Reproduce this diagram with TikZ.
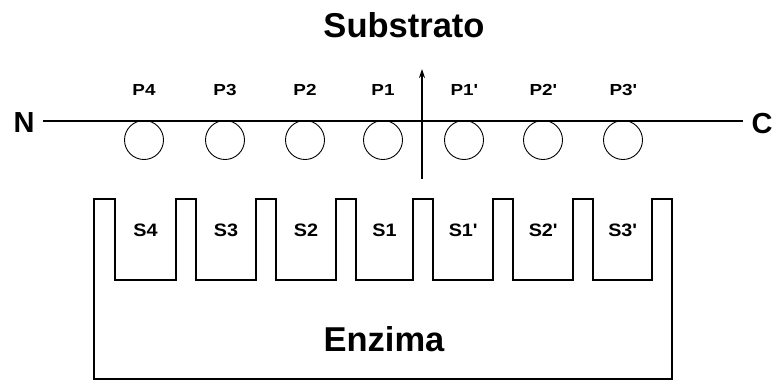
\documentclass[tikz,border=0pt]{standalone}
\usepackage{fontspec}
\setmainfont{Liberation Sans}
\newfontfamily\stretchfont[FakeStretch=1.18]{Liberation Sans}
\newfontfamily\stretchfontb[FakeStretch=1.1]{Liberation Sans}
\usetikzlibrary{arrows.meta}
\begin{document}
\begin{tikzpicture}[x=1pt,y=-1pt,
  big/.style={font=\fontsize{34.5}{37}\selectfont\bfseries, inner sep=0pt},
  endlbl/.style={font=\fontsize{29}{31}\selectfont\bfseries, inner sep=0pt},
  plbl/.style={font=\stretchfont\fontsize{16}{18}\selectfont\bfseries, inner sep=0pt},
  slbl/.style={font=\stretchfontb\fontsize{18}{20}\selectfont\bfseries, inner sep=0pt},
  res/.style={draw, circle, minimum size=39pt, inner sep=0pt, line width=0.9pt},
  chain/.style={line width=2pt},
  enz/.style={line width=1.2pt, line join=miter}]
\useasboundingbox (0,0) rectangle (776,381);
% titles
\node[big] (sub) at (404,25) {Substrato};
\node[big] (enzl) at (384,339) {Enzima};
% chain ends
\node[endlbl] (N) at (24,123) {N};
\node[endlbl] (C) at (762,124) {C};
\coordinate (L) at (43,121);
\coordinate (R) at (743,121);
% residues
\foreach \nm/\x/\lab in {p4/144/P4, p3/225/P3, p2/305/P2, p1/383/P1, q1/464/P1\textquotesingle, q2/543/P2\textquotesingle, q3/623/P3\textquotesingle}{
  \node[res] (\nm) at (\x,140) {};
  \node[plbl] (\nm l) at (\x,90) {\lab};
}
\draw[chain] (L) -- (R);
% cleavage arrow
\coordinate (a0) at (422,179);
\coordinate (a1) at (422,69);
\draw[line width=1.8pt, -{Stealth[length=9pt,width=6pt]}] (a0) -- (a1);
% enzyme
\draw[enz] (94,199) -- (94,379) -- (672,379) -- (672,199) -- (652,199)
  -- (652,280) -- (593,280) -- (593,199) -- (573,199)
  -- (573,280) -- (513,280) -- (513,199) -- (493,199)
  -- (493,280) -- (433,280) -- (433,199) -- (413,199)
  -- (413,280) -- (356,280) -- (356,199) -- (336,199)
  -- (336,280) -- (276,280) -- (276,199) -- (256,199)
  -- (256,280) -- (196,280) -- (196,199) -- (176,199)
  -- (176,280) -- (115,280) -- (115,199) -- cycle;
\foreach \nm/\x/\lab in {s4/145.5/S4, s3/226/S3, s2/306/S2, s1/384.5/S1, t1/463/S1\textquotesingle, t2/543/S2\textquotesingle, t3/622.5/S3\textquotesingle}{
  \node[slbl] (\nm) at (\x,230) {\lab};
}
\end{tikzpicture}
\end{document}
